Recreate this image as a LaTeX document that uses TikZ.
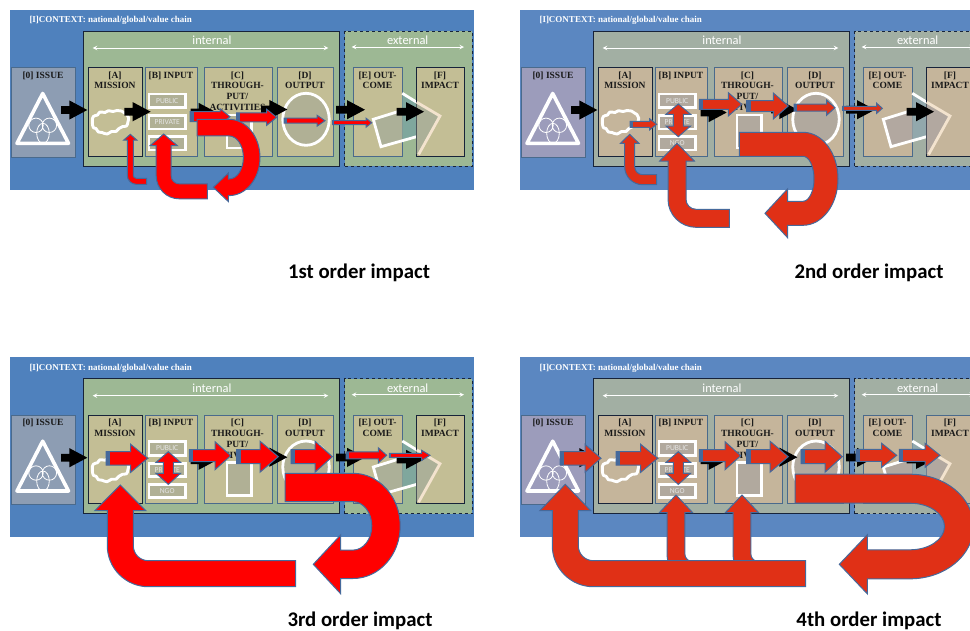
\documentclass[tikz,border=0pt]{standalone}
\usepackage{fontspec}
\setmainfont{Liberation Serif}
\newfontfamily\calib{Carlito}
\usetikzlibrary{shapes.geometric}
\definecolor{bdark}{HTML}{17233A}
\definecolor{bthin}{HTML}{4A6A8C}
\tikzset{
 arr/.style={fill=arrfill,draw=arrborder,line width=1pt,line join=miter},
 blk/.style={fill=black,draw=none},
 wbox/.style={draw=bdark,line width=1pt,fill=innerfill,anchor=north west,inner sep=0pt,minimum width=#1},
 unit/.style={anchor=north west,inner sep=0pt,fill=boxfill,line width=.8pt,draw=bthin},
 unitk/.style={unit,draw=bdark,line width=1pt},
 utext/.style={anchor=north,inner sep=0pt,align=center,font=\bfseries\fontsize{9.5}{10.7}\selectfont,text=black!90},
 chip/.style={draw=white,line width=2.6pt,fill=chipfill,inner sep=0pt,text=white!90!black,font=\calib\fontsize{7.6}{8}\selectfont,minimum width=36.5pt,minimum height=13.5pt},
 wline/.style={draw=white,line width=2.8pt},
 heading/.style={font=\calib\bfseries\fontsize{20.8}{22}\selectfont,inner sep=0pt,text=black},
 zone/.style={font=\calib\fontsize{12.4}{13}\selectfont,text=white,inner sep=0pt},
}
\newcommand\flowarrow[7]{% tail, tip, y, half shaft, half head, head base, strip
 \draw[arr] (#1,#3-#4) -- (#6,#3-#4) -- (#6,#3-#5) -- (#2,#3) -- (#6,#3+#5) -- (#6,#3+#4) -- (#1,#3+#4) -- cycle;
 \fill[arrborder] (#1,#3-#4) rectangle (#1+#7,#3+#4);}
\newcommand\blackarrow[3]{% tail, tip, y
 \fill[blk] (#1,#3-3.9) -- (#2-18,#3-3.9) -- (#2-18,#3-9.6) -- (#2,#3) -- (#2-18,#3+9.6) -- (#2-18,#3+3.9) -- (#1,#3+3.9) -- cycle;}
\newcommand\updown[6]{% x, top tip, base top, base bottom, bottom tip, half shaft / head=12.3
 \draw[arr] (#1-#6,#3) -- (#1-12.3,#3) -- (#1,#2) -- (#1+12.3,#3) -- (#1+#6,#3) -- (#1+#6,#4) -- (#1+12.3,#4) -- (#1,#5) -- (#1-12.3,#4) -- (#1-#6,#4) -- cycle;}
\newcommand\bigU[9]{% x0, yt, xc, rx, yb, hb, tip, hw, hh
 \pgfmathsetmacro\ym{(#2+#5)/2}\pgfmathsetmacro\ry{(#5-#2)/2}
 \pgfmathsetmacro\ox{#4+#8}\pgfmathsetmacro\oy{\ry+#8}
 \pgfmathsetmacro\ix{#4-#8}\pgfmathsetmacro\iy{\ry-#8}
 \def\kk{0.5523}
 \draw[arr] (#1,#2-#8) -- (#3,#2-#8)
  .. controls (#3+\kk*\ox,#2-#8) and (#3+\ox,\ym-\kk*\oy) .. (#3+\ox,\ym)
  .. controls (#3+\ox,\ym+\kk*\oy) and (#3+\kk*\ox,#5+#8) .. (#3,#5+#8)
  -- (#6,#5+#8) -- (#6,#5+#9) -- (#7,#5) -- (#6,#5-#9) -- (#6,#5-#8) -- (#3,#5-#8)
  .. controls (#3+\kk*\ix,#5-#8) and (#3+\ix,\ym+\kk*\iy) .. (#3+\ix,\ym)
  .. controls (#3+\ix,\ym-\kk*\iy) and (#3+\kk*\ix,#2+#8) .. (#3,#2+#8)
  -- (#1,#2+#8) -- cycle;}
\newcommand\bigL[9]{% xr, yc, xc, ybase, ytip, hw, hh, inner r, outer r
 \draw[arr] (#1,#2-#6) -- (#3+#6+#8,#2-#6)
  .. controls (#3+#6+.45*#8,#2-#6) and (#3+#6,#2-#6-.45*#8) .. (#3+#6,#2-#6-#8)
  -- (#3+#6,#4) -- (#3+#7,#4) -- (#3,#5) -- (#3-#7,#4) -- (#3-#6,#4)
  -- (#3-#6,#2+#6-#9)
  .. controls (#3-#6,#2+#6-.45*#9) and (#3-#6+.45*#9,#2+#6) .. (#3-#6+#9,#2+#6)
  -- (#1,#2+#6) -- cycle;}
\newcommand\stubarrow[7]{% x, ybottom, ybase, ytip, hw, hh, flare
 \draw[arr] (#1-#5+1,#2) .. controls (#1-#5,#2-3) .. (#1-#5,#2-8) -- (#1-#5,#3) -- (#1-#6,#3) -- (#1,#4) -- (#1+#6,#3) -- (#1+#5,#3)
  -- (#1+#5,#2-#7) .. controls (#1+#5,#2-.4*#7) and (#1+#5+.5*#7,#2) .. (#1+#5+#7,#2) -- cycle;}
% base panel
\newcommand\basepanel[1]{%
 \fill[panelfill] (9.5,9.7) rectangle (473.6,189.5);
 \node[anchor=west,inner sep=0pt,text=white,font=\bfseries\fontsize{9}{10}\selectfont] (ctx#1) at (29.3,20.7) {[I]CONTEXT: national/global/value chain};
 \node[wbox=255.5pt,minimum height=135pt] (int#1) at (83,30.7) {};
 \node[wbox=127.7pt,minimum height=135pt,dashed] (ext#1) at (344,30.7) {};
 \node[zone] (il#1) at (212,40.3) {internal};
 \node[zone] (el#1) at (407.7,40.3) {external};
 \coordinate (ia#1) at (92.7,48); \coordinate (ib#1) at (328.3,48);
 \coordinate (ea#1) at (351.7,47); \coordinate (eb#1) at (464,47);
 \draw[white,line width=1pt,<->,>=stealth] (ia#1) -- (ib#1);
 \draw[white,line width=1pt,<->,>=stealth] (ea#1) -- (eb#1);
 \node[unit,fill=issuefill,minimum width=63.4pt,minimum height=89.3pt] (i#1) at (11.3,67.4) {};
 \node[unitk,minimum width=53.4pt,minimum height=88.2pt] (a#1) at (88.3,67.4) {};
 \node[unit,minimum width=51.4pt,minimum height=88.2pt] (b#1) at (145.3,67.4) {};
 \node[unit,minimum width=67.7pt,minimum height=88.2pt] (c#1) at (204,67.4) {};
 \node[unit,minimum width=55.4pt,minimum height=88.2pt] (d#1) at (277.3,67.4) {};
 \node[unit,minimum width=49.6pt,minimum height=88.2pt] (e#1) at (352.7,67.4) {};
 % E square and F kite
 \fill[kitefill] (402.3,93.3) -- (416.3,102) -- (416.3,136.7) -- (402.3,140.7) -- cycle;
 \fill[squarefill] (373.3,119.3) -- (402.3,110.3) -- (402.3,140.7) -- (381,146.7) -- cycle;
 \draw[wline,line join=miter] (402.3,93.3) -- (416.3,102);
 \draw[wline,line join=miter] (416.5,136.7) -- (381,146.7) -- (373.3,119.3) -- (400,111);
 \node[unit,draw=fborder,minimum width=47.4pt,minimum height=88.2pt,fill=boxfill] (f#1) at (416.3,67.4) {};
 \fill[squarefill] (416.7,102) -- (440,116) -- (418.6,154) -- (416.7,154) -- cycle;
 \draw[draw=kiteline,line width=2.8pt,line join=miter] (416.7,102.2) -- (440,116) -- (418.6,154.5);
 \node[utext] (ti#1) at (43,71.5) {[0] ISSUE};
 \node[utext] (ta#1) at (115,71.5) {[A]\\MISSION};
 \node[utext] (tb#1) at (171,71.5) {[B] INPUT};
 \node[utext] (tc#1) at (237.5,71.5) {[C]\\THROUGH-\\PUT/\\ACTIVITIES};
 \node[utext] (td#1) at (305,71.5) {[D]\\OUTPUT};
 \node[utext] (te#1) at (377.5,71.5) {[E] OUT-\\COME};
 \node[utext] (tf#1) at (440,71.5) {[F]\\IMPACT};
 % triangle
 \draw[white,line width=.8pt] (36,125.3) circle[radius=7.2] (49.4,125.3) circle[radius=7.2];
 \draw[white,line width=.8pt] (43,133.3) ellipse[x radius=6.3,y radius=10];
 \draw[white,line width=3.6pt,line join=round] (42.7,93.5) -- (17,143.3) -- (68.5,143.3) -- cycle;
 % cloud
 \draw[white,line width=2.9pt,line join=round] plot[smooth cycle,tension=.75] coordinates {(92.3,121.7) (93.3,116.5) (97.5,115) (100,112) (105,112.5) (108.5,110.7) (113,111.5) (117,110.5) (121.5,111) (124.5,113) (127,114.5) (128.8,118.3) (127.8,122.5) (126.5,126) (122.5,126.6) (119,128.5) (116,131.5) (111.5,131.5) (107,134) (102,132.5) (98.3,132) (96,128.5) (93.3,127.5)};
 \node[chip] (pu#1) at (167.2,100.8) {PUBLIC};
 \node[chip] (pr#1) at (167.2,122.3) {PRIVATE};
 \node[chip] (ng#1) at (167.2,143.3) {NGO};
 \node[draw=white,line width=2.8pt,fill=chipfill,inner sep=0pt,minimum width=24.5pt,minimum height=33pt] (sq#1) at (239.2,131.5) {};
 \node[ellipse,draw=white,line width=2.8pt,fill=chipfill,inner sep=0pt,minimum width=46.5pt,minimum height=52pt] (el#1x) at (306,119.3) {};
 % black arrows
 \blackarrow{61}{87.3}{110}
 \blackarrow{190.7}{216.7}{112.5}
 \blackarrow{261}{287.3}{109.5}
 \blackarrow{336}{365}{109.7}
 \blackarrow{396.7}{424}{111.7}
}
\newcommand\earthy{%
 \colorlet{panelfill}{pb1}\colorlet{innerfill}{in1}\colorlet{boxfill}{bx1}\colorlet{issuefill}{is1}
 \colorlet{chipfill}{ch1}\colorlet{squarefill}{sq1}\colorlet{kitefill}{kf1}\colorlet{kiteline}{kl1}
 \colorlet{arrfill}{ar1}}
\newcommand\muted{%
 \colorlet{panelfill}{pb2}\colorlet{innerfill}{in2}\colorlet{boxfill}{bx2}\colorlet{issuefill}{is2}
 \colorlet{chipfill}{ch2}\colorlet{squarefill}{sq2}\colorlet{kitefill}{kf2}\colorlet{kiteline}{kl2}
 \colorlet{arrfill}{ar2}}
\definecolor{pb1}{HTML}{4F81BD}\definecolor{in1}{HTML}{9DB894}\definecolor{bx1}{HTML}{C3BE95}\definecolor{is1}{HTML}{8D9DB3}
\definecolor{ch1}{HTML}{B0B095}\definecolor{sq1}{HTML}{ACB098}\definecolor{kf1}{HTML}{7FA79D}\definecolor{kl1}{HTML}{F3E3CE}\definecolor{ar1}{HTML}{FF0000}
\definecolor{pb2}{HTML}{5B87C1}\definecolor{in2}{HTML}{A2AFA3}\definecolor{bx2}{HTML}{C5B59B}\definecolor{is2}{HTML}{9C9CBB}
\definecolor{ch2}{HTML}{B1A99E}\definecolor{sq2}{HTML}{B2A8A0}\definecolor{kf2}{HTML}{92A8AC}\definecolor{kl2}{HTML}{F3E3CE}\definecolor{ar2}{HTML}{E03016}
\definecolor{arrborder}{HTML}{46699B}
\colorlet{panelfill}{pb1}\colorlet{innerfill}{in1}\colorlet{boxfill}{bx1}\colorlet{issuefill}{is1}
\colorlet{chipfill}{ch1}\colorlet{squarefill}{sq1}\colorlet{kitefill}{kf1}\colorlet{kiteline}{kl1}\colorlet{arrfill}{ar1}
\colorlet{fborder}{bdark}
\begin{document}
\begin{tikzpicture}[x=1pt,y=-1pt]
\useasboundingbox (0,0) rectangle (970,630);
\clip (0,0) rectangle (970,630);
\fill[white] (0,0) rectangle (970,630);
% ---------- 1st
\earthy
\begin{scope}
 \basepanel{p}
 \blackarrow{124.3}{150.7}{111.7}
 \flowarrow{190}{230}{116.7}{5}{8}{220}{3.5}
 \flowarrow{236.7}{276.7}{117.3}{4.5}{8}{266.7}{3.5}
 \flowarrow{284}{325}{120.7}{2.5}{5.5}{317}{3}
 \flowarrow{332.7}{371.7}{122.7}{2}{4.5}{366}{1}
 \bigU{197}{127.6}{229}{22.7}{187.3}{228.3}{213.3}{8.3}{14.2}
 \bigL{146.7}{181.3}{130.3}{140}{134.3}{3}{6.5}{3}{9}
 \bigL{207.3}{191.3}{163.7}{145.7}{134}{7.5}{13.7}{8}{23}
\end{scope}
% ---------- 2nd
\muted
\begin{scope}[shift={(510,0)}]
 \basepanel{q}
 \flowarrow{120}{146.7}{124.3}{3}{5.5}{139.7}{3}
 \flowarrow{189.3}{231.7}{104.3}{5}{11.7}{218.3}{4}
 \flowarrow{236.7}{278.3}{106}{5.5}{13}{263.3}{4}
 \flowarrow{284}{325}{107.7}{3.5}{7.5}{316.7}{3}
 \flowarrow{332.7}{372.3}{108.3}{2}{5}{366.7}{1.5}
 \updown{168.3}{104}{114.3}{126}{136.7}{5}
 \bigU{229.3}{144.3}{293}{23}{213.3}{277.7}{255}{12}{24.5}
 \bigL{146.7}{179.7}{119.7}{143.3}{134.3}{5}{9.2}{8}{18}
 \bigL{219.3}{218.3}{167}{161}{143.3}{9}{17.3}{10}{28}
\end{scope}
% ---------- 3rd
\earthy
\begin{scope}[shift={(0,347.7)}]
 \basepanel{r}
 \blackarrow{122}{148.5}{110.6}
 \flowarrow{106}{147.7}{110.6}{6.7}{14}{130.7}{4}
 \flowarrow{189.3}{230.7}{108}{6}{14}{215}{4}
 \flowarrow{236.7}{278.3}{109}{7}{15.5}{260}{4}
 \flowarrow{291}{332.3}{109}{7}{15.5}{315}{4}
 \flowarrow{346}{386.7}{107.6}{3.5}{7.5}{378.3}{3}
 \flowarrow{389.3}{430}{107.6}{2}{5}{421.7}{2}
 \updown{168.3}{104}{114.7}{125.6}{136.7}{5}
 \bigU{285}{139.8}{353}{33}{216.6}{340.7}{313.3}{14.2}{29.5}
 \bigL{295.7}{226}{120.3}{163}{137.3}{13}{25.5}{15}{41}
\end{scope}
% ---------- 4th
\muted
\colorlet{fborder}{bthin}
\begin{scope}[shift={(510,347.7)}]
 \basepanel{s}
 \blackarrow{122}{148.5}{110.6}
 \flowarrow{50}{91}{110.6}{6.7}{14}{75}{4}
 \flowarrow{106}{147.7}{110.6}{6.7}{14}{130.7}{4}
 \flowarrow{189.3}{230.7}{108}{6}{14}{215}{4}
 \flowarrow{236.7}{278.3}{109}{7}{15.5}{260}{4}
 \flowarrow{291}{332.3}{109}{7}{15.5}{315}{4}
 \flowarrow{346}{386.7}{107.6}{6}{12}{371.7}{4}
 \flowarrow{389.3}{430}{107.6}{6}{12}{415}{4}
 \updown{168.3}{104}{114.7}{125.6}{136.7}{5}
 \stubarrow{166}{214}{165}{147.3}{8.8}{16.7}{8}
 \stubarrow{232}{214}{165}{147.3}{8.8}{16.7}{8}
 \bigU{285}{141}{400}{49}{216.6}{357.3}{329.3}{14.5}{29.5}
 \bigL{295.7}{226}{55.3}{163}{136.6}{13}{25.5}{15}{41}
\end{scope}
\node[heading] (h1) at (359,273) {1st order impact};
\node[heading] (h2) at (869,273) {2nd order impact};
\node[heading] (h3) at (360,620.5) {3rd order impact};
\node[heading] (h4) at (869,620.5) {4th order impact};
\end{tikzpicture}
\end{document}
